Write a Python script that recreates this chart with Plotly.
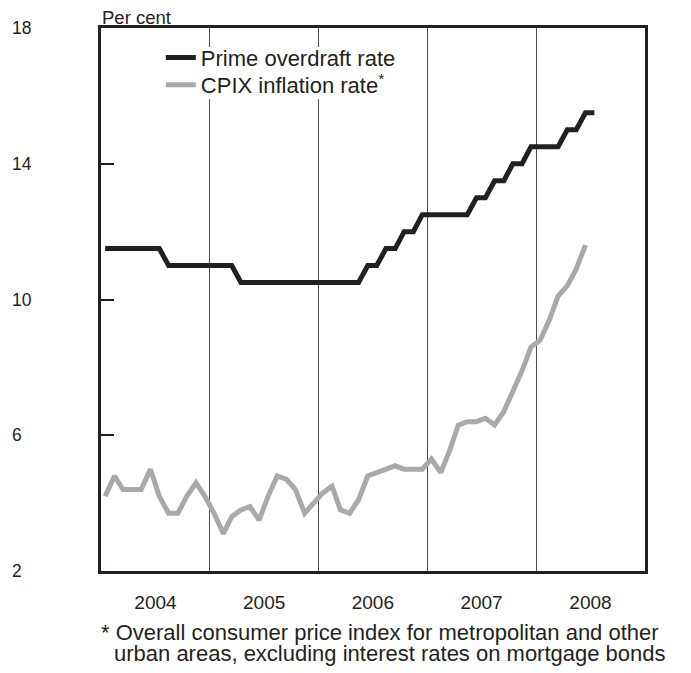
import pandas as pd
import plotly.graph_objects as go

# ---- data (monthly) ----
prime_start = "2004-01-01"
prime_rate = [
    11.5, 11.5, 11.5, 11.5, 11.5, 11.5, 11.5, 11.0, 11.0, 11.0, 11.0, 11.0,   # 2004
    11.0, 11.0, 11.0, 10.5, 10.5, 10.5, 10.5, 10.5, 10.5, 10.5, 10.5, 10.5,   # 2005
    10.5, 10.5, 10.5, 10.5, 10.5, 11.0, 11.0, 11.5, 11.5, 12.0, 12.0, 12.5,   # 2006
    12.5, 12.5, 12.5, 12.5, 12.5, 13.0, 13.0, 13.5, 13.5, 14.0, 14.0, 14.5,   # 2007
    14.5, 14.5, 14.5, 15.0, 15.0, 15.5, 15.5,                                 # 2008
]
cpix_start = "2004-01-01"
cpix_rate = [
    4.2, 4.8, 4.4, 4.4, 4.4, 5.0, 4.2, 3.7, 3.7, 4.2, 4.6, 4.2,   # 2004
    3.7, 3.1, 3.6, 3.8, 3.9, 3.5, 4.2, 4.8, 4.7, 4.4, 3.7, 4.0,   # 2005
    4.3, 4.5, 3.8, 3.7, 4.1, 4.8, 4.9, 5.0, 5.1, 5.0, 5.0, 5.0,   # 2006
    5.3, 4.9, 5.5, 6.3, 6.4, 6.4, 6.5, 6.3, 6.7, 7.3, 7.9, 8.6,   # 2007
    8.8, 9.4, 10.1, 10.4, 10.9, 11.6,                             # 2008
]
years = ["2004", "2005", "2006", "2007", "2008"]
y_ticks = [2, 6, 10, 14, 18]

series_names = ["Prime overdraft rate", "CPIX inflation rate<sup>*</sup>"]
footnote = [
    "* Overall consumer price index for metropolitan and other",
    "urban areas, excluding interest rates on mortgage bonds",
]
y_title = "Per cent"

# ---- helpers ----
def mid_month_dates(start, n):
    return pd.date_range(start, periods=n, freq="MS") + pd.Timedelta(days=14)

ink = "#231f20"
grey = "#a7a9ac"
font_family = "Liberation Sans, Arial, Helvetica, sans-serif"

fig = go.Figure()
fig.add_trace(go.Scatter(
    x=mid_month_dates(prime_start, len(prime_rate)), y=prime_rate,
    mode="lines", name=series_names[0], legend="legend",
    line=dict(color=ink, width=5),
))
fig.add_trace(go.Scatter(
    x=mid_month_dates(cpix_start, len(cpix_rate)), y=cpix_rate,
    mode="lines", name=series_names[1], legend="legend2",
    line=dict(color=grey, width=5),
))

year_mid = [f"{y}-07-02" for y in years]
year_bounds = [f"{y}-01-01" for y in years[1:]]

fig.update_xaxes(
    type="date",
    range=[f"{years[0]}-01-01", f"{int(years[-1]) + 1}-01-01"],
    tickmode="array", tickvals=year_mid, ticktext=years,
    ticks="outside", ticklen=12, tickcolor="rgba(0,0,0,0)",
    tickfont=dict(size=19, color=ink, family=font_family),
    showgrid=False, zeroline=False,
    showline=True, mirror=True, linecolor=ink, linewidth=2.5,
    minor=dict(tickmode="array", tickvals=year_bounds, showgrid=True,
               gridcolor="#4d4d4f", gridwidth=1, ticks=""),
)
fig.update_yaxes(
    range=[y_ticks[0], y_ticks[-1]],
    tickmode="array", tickvals=y_ticks,
    ticks="inside", ticklen=13, tickwidth=2, tickcolor=ink,
    showticklabels=False, showgrid=False, zeroline=False,
    showline=True, mirror=True, linecolor=ink, linewidth=2.5,
)

annotations = []
for v in y_ticks:
    annotations.append(dict(
        x=-0.168, xref="paper", y=v, yref="y", text=str(v), showarrow=False,
        xanchor="left", yanchor="middle",
        font=dict(size=17.5, color=ink, family=font_family),
    ))
annotations.append(dict(
    x=-0.002, xref="paper", y=1.019, yref="paper", text=y_title, showarrow=False,
    xanchor="left", yanchor="middle",
    font=dict(size=18.5, color=ink, family=font_family),
))
annotations.append(dict(
    x=-0.004, xref="paper", y=-0.114, yref="paper", text=footnote[0], showarrow=False,
    xanchor="left", yanchor="middle",
    font=dict(size=22, color=ink, family=font_family),
))
annotations.append(dict(
    x=0.02, xref="paper", y=-0.152, yref="paper", text=footnote[1], showarrow=False,
    xanchor="left", yanchor="middle",
    font=dict(size=22, color=ink, family=font_family),
))

legend_style = dict(
    xanchor="left", yanchor="top", bgcolor="rgba(0,0,0,0)", borderwidth=0,
    font=dict(size=22, color=ink, family=font_family), itemwidth=30,
)

# white backing behind the legend block (hides the year separators there)
legend_backing = dict(
    type="rect", xref="paper", yref="paper",
    x0=0.099, x1=0.55, y0=0.869, y1=0.965,
    fillcolor="white", line=dict(width=0), layer="above",
)

# the page adds an 8px body margin, so the figure is made 8px smaller
fig.update_layout(
    width=683, height=665,
    margin=dict(l=93, r=46, t=20, b=102),
    paper_bgcolor="white", plot_bgcolor="white",
    font=dict(family=font_family, color=ink),
    showlegend=True,
    legend=dict(x=0.110, y=0.984, **legend_style),
    legend2=dict(x=0.110, y=0.934, **legend_style),
    shapes=[legend_backing],
    annotations=annotations,
)

fig.write_html("out.html")
